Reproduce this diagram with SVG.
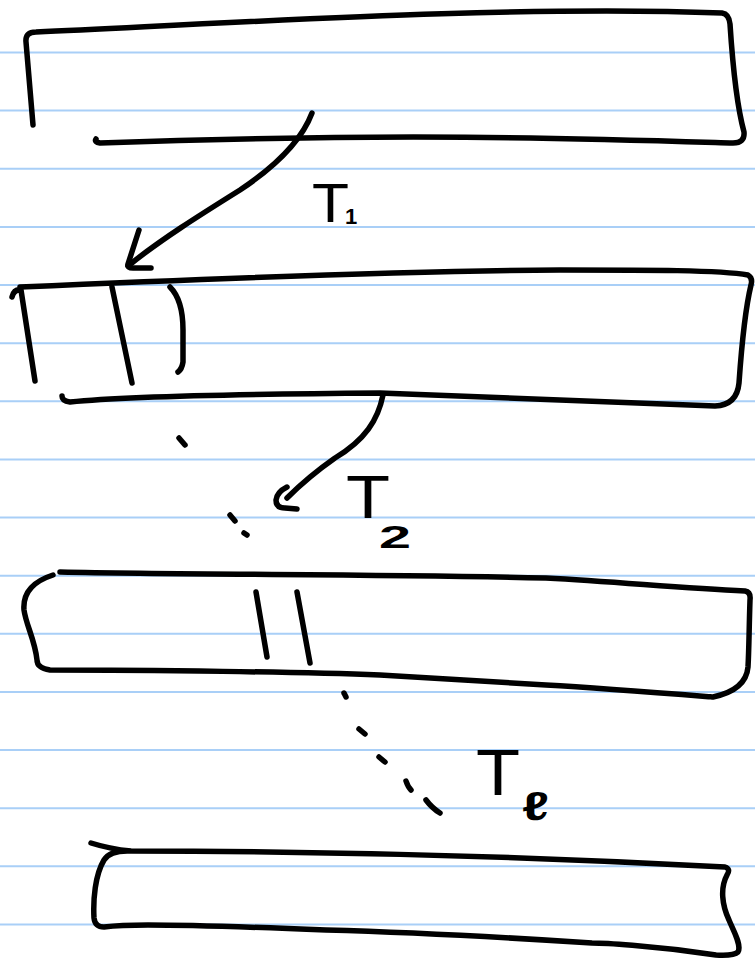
<svg xmlns="http://www.w3.org/2000/svg" width="755" height="958" viewBox="0 0 755 958">
<style>
.rule{stroke:#a9cff7;stroke-width:2;fill:none}
.ink{stroke:#000;stroke-width:5.5;fill:none;stroke-linecap:round;stroke-linejoin:round}
.lbl{font-family:"Liberation Sans","DejaVu Sans",sans-serif;fill:#000}
.sub{font-family:"Liberation Sans","DejaVu Sans",sans-serif;fill:#000;font-weight:bold}
</style>
<rect width="755" height="958" fill="#fff"/>
<g id="ruling">
<line class="rule" x1="0" y1="52.5" x2="755" y2="52.5"/>
<line class="rule" x1="0" y1="110.6" x2="755" y2="110.6"/>
<line class="rule" x1="0" y1="168.8" x2="755" y2="168.8"/>
<line class="rule" x1="0" y1="226.9" x2="755" y2="226.9"/>
<line class="rule" x1="0" y1="285" x2="755" y2="285"/>
<line class="rule" x1="0" y1="343.2" x2="755" y2="343.2"/>
<line class="rule" x1="0" y1="401.3" x2="755" y2="401.3"/>
<line class="rule" x1="0" y1="459.4" x2="755" y2="459.4"/>
<line class="rule" x1="0" y1="517.5" x2="755" y2="517.5"/>
<line class="rule" x1="0" y1="575.7" x2="755" y2="575.7"/>
<line class="rule" x1="0" y1="633.8" x2="755" y2="633.8"/>
<line class="rule" x1="0" y1="691.9" x2="755" y2="691.9"/>
<line class="rule" x1="0" y1="750" x2="755" y2="750"/>
<line class="rule" x1="0" y1="808.2" x2="755" y2="808.2"/>
<line class="rule" x1="0" y1="866.3" x2="755" y2="866.3"/>
<line class="rule" x1="0" y1="924.4" x2="755" y2="924.4"/>
</g>
<g id="box1">
<path class="ink" d="M33,125 L26,42 Q25,32 36,32 C250,22 520,5 722,13 Q729,14 730,24 C733,70 738,110 744,132 Q745,143 733,143 C600,139 400,132 100,143 Q94,142 96,139"/>
</g>
<g id="box2">
<path class="ink" d="M12,297 Q14,289 21,290 L35,381"/>
<path class="ink" d="M20,287 C200,279 400,271 560,270 C650,270 720,270 748,275 Q753,278 751,285 C745,310 742,340 739,383 Q737,405 715,406 C600,402 500,397 380,393 C250,394 120,397 70,402 Q62,401 62,396"/>
<path class="ink" d="M112,287 L132,383"/>
<path class="ink" d="M170,287 Q183,300 183,330 L183,362 Q182,369 178,372"/>
</g>
<g id="box3">
<path class="ink" d="M60,572 C200,575 380,574 546,578 C620,582 680,588 745,591 Q751,592 750,600 C749,630 749,650 748,667 Q746,690 713,697 C650,692 600,688 546,685 C480,681 420,677 380,675 C300,672 150,670 50,670 Q37,668 37,660 C35,640 26,625 24,610 Q22,585 53,575"/>
<path class="ink" d="M256,592 L267,657"/>
<path class="ink" d="M297,592 L310,663"/>
</g>
<g id="box4">
<path class="ink" d="M91,843 Q110,849 131,851 C300,851 500,855 725,867 Q731,869 727,875 C720,888 722,905 729,920 C733,930 742,945 738,952 Q734,956 716,955 C650,945 600,943 592,943 C500,937 400,932 326,930 C250,927 180,925 148,925 Q120,925 104,927 Q95,927 94,918 C93,900 95,875 104,860 Q110,850 131,851"/>
</g>
<g id="connectors">
<path class="ink" d="M312,113 C300,145 270,170 240,190 C200,215 160,240 128,266"/>
<path class="ink" d="M139,230 L128,264 Q127,268 133,268 L151,268"/>
<path class="ink" d="M383,395 C378,420 365,440 335,458 C315,472 298,487 287,498"/>
<path class="ink" d="M287,487 Q277,492 276,500 Q276,508 285,508 L297,509"/>
<path class="ink" d="M179,438 L185,445"/>
<path class="ink" d="M230,515 L235,521"/>
<path class="ink" d="M244,533 L247,535"/>
<path class="ink" d="M344,693 L346,697"/>
<path class="ink" d="M359,729 L365,734"/>
<path class="ink" d="M379,757 L385,762"/>
<path class="ink" d="M406,781 Q408,787 411,790"/>
<path class="ink" d="M426,800 Q432,808 440,813"/>
</g>
<g id="label-t1">
<text class="lbl" x="312" y="222" font-size="56" textLength="37" lengthAdjust="spacingAndGlyphs">T</text>
<text class="sub" x="345" y="224" font-size="22">1</text>
</g>
<g id="label-t2">
<text class="lbl" x="346" y="518" font-size="62" textLength="44" lengthAdjust="spacingAndGlyphs">T</text>
<text class="sub" x="379" y="548" font-size="32" textLength="32" lengthAdjust="spacingAndGlyphs">2</text>
</g>
<g id="label-tl">
<text class="lbl" x="476" y="795" font-size="64" textLength="44" lengthAdjust="spacingAndGlyphs">T</text>
<text class="sub" x="522" y="820" font-size="40" textLength="27" lengthAdjust="spacingAndGlyphs">ℓ</text>
</g>
</svg>
